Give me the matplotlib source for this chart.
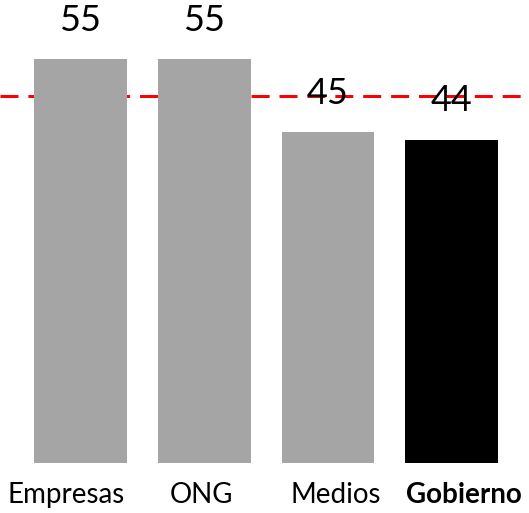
import matplotlib
matplotlib.use("Agg")
import matplotlib.pyplot as plt
from matplotlib.transforms import ScaledTranslation

categories = ["Empresas", "ONG", "Medios", "Gobierno"]
values = [55, 55, 45, 44]
bar_colors = ["#A5A5A5", "#A5A5A5", "#A5A5A5", "#000000"]
reference_level = 50

plt.rcParams["font.family"] = ["Lato", "DejaVu Sans"]

fig = plt.figure(figsize=(5.29, 5.13), dpi=100)
ax = fig.add_axes([0, 50 / 513, 1, 463 / 513])

x = list(range(len(categories)))
bars = ax.bar(x, values, width=0.75, color=bar_colors, zorder=2)

ax.axhline(reference_level, color="#FF0000", lw=2.16,
           linestyle=(0, (6, 3.3)), zorder=1)

for xi, v in zip(x, values):
    ax.annotate(str(v), (xi, v), xytext=(0, 16), textcoords="offset points",
                ha="center", va="bottom", fontsize=26, color="#000000", zorder=3)

ax.set_xlim(-0.651, 3.626)
ax.set_ylim(0, 63.0)
ax.set_xticks(x)
ax.set_xticklabels(categories, fontsize=20)
ax.tick_params(axis="x", length=0, pad=14)

# nudge the category captions horizontally (pixels)
label_shift_px = [-14, -3, 8, 12]
for lbl, dx in zip(ax.get_xticklabels(), label_shift_px):
    lbl.set_transform(lbl.get_transform() + ScaledTranslation(dx / 100, 0, fig.dpi_scale_trans))
ax.get_xticklabels()[-1].set_fontweight("bold")

ax.set_yticks([])
for s in ax.spines.values():
    s.set_visible(False)

fig.savefig("out.png", dpi=100)
